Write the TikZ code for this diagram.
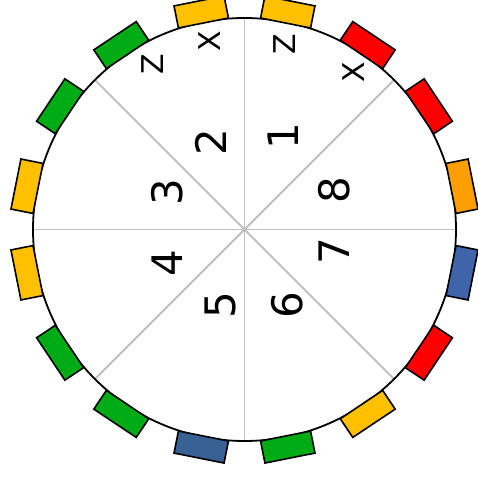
\documentclass[tikz,border=0pt]{standalone}
\usepackage{fontspec}
\setmainfont{DejaVu Sans}
\definecolor{cyel}{HTML}{FFC000}
\definecolor{corg}{HTML}{FF9E00}
\definecolor{cred}{HTML}{FF0000}
\definecolor{cgrn}{HTML}{00AC16}
\definecolor{cblu}{HTML}{386194}
\definecolor{cblr}{HTML}{4064AA}
\definecolor{cspk}{HTML}{C0C0C0}
\tikzset{
  tab/.style={draw=black, line width=1.6pt, rectangle, minimum width=51pt, minimum height=22.5pt, inner sep=0pt, outer sep=0pt},
  spoke/.style={draw=cspk, line width=1.8pt},
  num/.style={inner sep=0pt, rotate=90, font=\fontsize{42}{42}\selectfont},
  ax/.style={inner sep=0pt, rotate=90, font=\fontsize{30}{30}\selectfont}
}
\begin{document}
\begin{tikzpicture}[x=1pt,y=1pt]
\useasboundingbox (0,0) rectangle (477,-485);
\coordinate (O) at (244.5,-229.5);
\node[circle, minimum size=423pt, inner sep=0pt, outer sep=0pt] (C) at (O) {};
\foreach \a in {0,45,...,315} {\draw[spoke] (O) -- (C.\a);}
\draw[line width=1.8pt] (O) circle (211.5);
\begin{scope}[shift={(O)}]
\foreach \a/\c [count=\i] in {11.25/corg,33.75/cred,56.25/cred,78.75/cyel,101.25/cyel,123.75/cgrn,146.25/cgrn,168.75/cyel,191.25/cyel,213.75/cgrn,236.25/cgrn,258.75/cblu,281.25/cgrn,303.75/cyel,326.25/cred,348.75/cblr} {
  \node[tab, fill=\c, rotate=\a-90] (t\i) at (\a:221.8) {};
}
\end{scope}
\node[num] (n1) at (283.3,-135.7) {1};
\node[num] (n2) at (210.8,-141.7) {2};
\node[num] (n3) at (167.2,-191.7) {3};
\node[num] (n4) at (166.7,-263.3) {4};
\node[num] (n5) at (220.5,-305) {5};
\node[num] (n6) at (287.5,-305) {6};
\node[num] (n7) at (333.8,-250.8) {7};
\node[num] (n8) at (334.5,-189.7) {8};
\node[ax] (zr) at (285,-44.5) {Z};
\node[ax] (xr) at (354,-72.5) {X};
\node[ax] (xl) at (209.5,-40.8) {X};
\node[ax] (zl) at (152.5,-64.2) {Z};
\end{tikzpicture}
\end{document}
